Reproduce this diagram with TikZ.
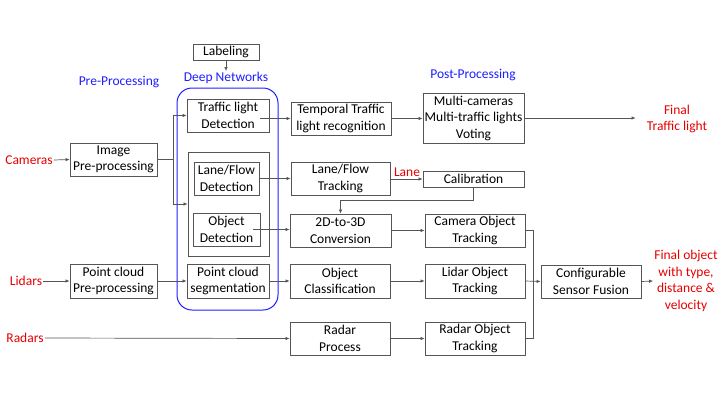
\documentclass[tikz,border=0pt]{standalone}
\usepackage{fontspec}
\setmainfont{Carlito}
\usetikzlibrary{arrows.meta}
\definecolor{bxgray}{RGB}{85,85,85}
\definecolor{myblue}{RGB}{30,30,255}
\definecolor{myred}{RGB}{230,0,0}
\tikzset{
  box/.style={draw=bxgray, line width=0.8pt, inner sep=0pt, align=center, font=\fontsize{13.5}{16.5}\selectfont},
  lbl/.style={inner sep=1pt, align=center, font=\fontsize{13.5}{16.5}\selectfont},
  redlbl/.style={lbl, text=myred},
  bluelbl/.style={lbl, text=myblue},
  arr/.style={draw=bxgray, line width=0.7pt, -{Latex[length=4pt,width=3.5pt]}},
  ln/.style={draw=bxgray, line width=0.7pt},
}
\begin{document}
\begin{tikzpicture}[x=1pt,y=-1pt]
\useasboundingbox (0,0) rectangle (720,405);
% blue group
\draw[myblue, line width=1pt, rounded corners=15pt] (177,88) rectangle (278,310);
% headings
\node[bluelbl] (pre) at (119,82) {Pre-Processing};
\node[bluelbl] (dn) at (226,78) {Deep Networks};
\node[bluelbl] (post) at (473,75) {Post-Processing};
% boxes
\node[box, minimum width=66pt, minimum height=16pt] (lab) at (226,52) {Labeling};
\node[box, minimum width=82pt, minimum height=33pt] (tld) at (228,115.5) {Traffic light\\Detection};
\node[box, minimum width=81pt, minimum height=104pt] (inner) at (228.5,204) {};
\node[box, minimum width=65pt, minimum height=33pt] (lfd) at (226.5,178.5) {Lane/Flow\\Detection};
\node[box, minimum width=67pt, minimum height=33pt] (od) at (226.5,229.5) {Object\\Detection};
\node[box, minimum width=82pt, minimum height=34pt] (pcs) at (228,281) {Point cloud\\segmentation};
\node[box, minimum width=87pt, minimum height=33pt] (ipp) at (113.5,159.5) {Image\\Pre-processing};
\node[box, minimum width=87pt, minimum height=34pt] (ppp) at (113.5,281) {Point cloud\\Pre-processing};
\node[box, minimum width=100pt, minimum height=33pt] (ttr) at (341,118.5) {Temporal Traffic\\light recognition};
\node[box, minimum width=101pt, minimum height=50pt] (mc) at (473.5,118) {Multi-cameras\\Multi-traffic lights\\Voting};
\node[box, minimum width=99pt, minimum height=33pt] (lft) at (340.5,178.5) {Lane/Flow\\Tracking};
\node[box, minimum width=101pt, minimum height=16pt] (cal) at (473.5,179) {Calibration};
\node[box, minimum width=101pt, minimum height=33pt] (c23) at (340.5,230.5) {2D-to-3D\\Conversion};
\node[box, minimum width=100pt, minimum height=33pt] (cot) at (475,230.5) {Camera Object\\Tracking};
\node[box, minimum width=100pt, minimum height=34pt] (ocl) at (340,281) {Object\\Classification};
\node[box, minimum width=100pt, minimum height=34pt] (lot) at (475,281) {Lidar Object\\Tracking};
\node[box, minimum width=100pt, minimum height=33pt] (rp) at (340,338.5) {Radar\\Process};
\node[box, minimum width=100pt, minimum height=33pt] (rot) at (475,338.5) {Radar Object\\Tracking};
\node[box, minimum width=100pt, minimum height=33pt] (csf) at (591,281.5) {Configurable\\Sensor Fusion};
% side labels
\node[redlbl] (cam) at (29,160) {Cameras};
\node[redlbl] (lid) at (26,281) {Lidars};
\node[redlbl] (rad) at (25,338) {Radars};
\node[redlbl] (ftl) at (677,119) {Final\\Traffic light};
\node[redlbl] (fo) at (686,281) {Final object\\with type,\\distance \&\\velocity};
\node[redlbl] (lane) at (407,172) {Lane};
% coordinates
\coordinate (split) at (173,159.5);
\coordinate (tlo) at ([xshift=-9pt]tld.east);
\coordinate (odo) at ([xshift=-7pt]od.east);
\coordinate (bus) at (533,230.5);
% connectors
\draw[arr] (lab.south) -- (dn.north);
\draw[arr] (cam.east) -- (ipp.west);
\draw[ln] (ipp.east) -- (split);
\draw[arr] (split) |- (tld.west);
\draw[arr] (split) |- (inner.west);
\draw[arr] (tlo |- ttr.west) -- (ttr.west);
\draw[arr] (ttr.east) -- (ttr.east -| mc.west);
\draw[arr, shorten >=10pt] (mc.east) -- (mc.east -| ftl.west);
\draw[arr] (lfd.east) -- (lft.west);
\draw[arr] (lft.east |- cal.west) -- (cal.west);
\draw[arr] (cal.south) -- ++(0,13) -| (c23.north);
\draw[arr] (odo) -- (odo -| c23.west);
\draw[arr] (c23.east) -- (cot.west);
\draw[arr] (lid.east) -- (ppp.west);
\draw[arr] (ppp.east) -- (pcs.west);
\draw[arr] (pcs.east) -- (ocl.west);
\draw[arr] (ocl.east) -- (lot.west);
\draw[arr] (rad.east) -- (rp.west);
\draw[arr] (rp.east) -- (rot.west);
\draw[ln] (cot.east) -| (bus) |- (rot.east);
\draw[arr] (lot.east) -- (csf.west);
\draw[arr] (csf.east) -- (fo.west);
\end{tikzpicture}
\end{document}
